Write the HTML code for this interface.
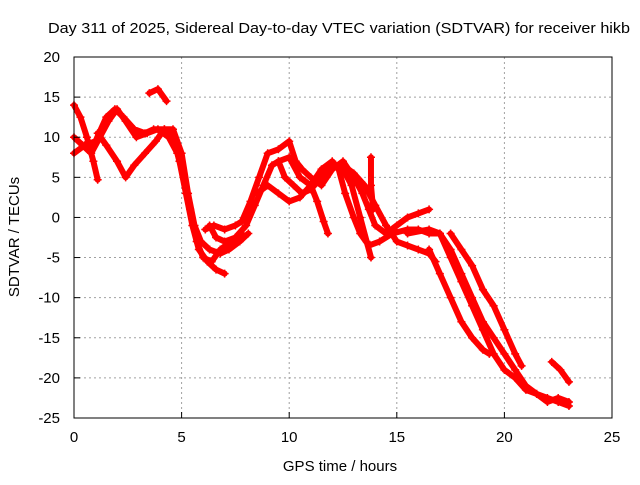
<!DOCTYPE html>
<html><head><meta charset="utf-8"><style>
body{margin:0;background:#fff;width:640px;height:480px;overflow:hidden}
svg text{font-family:"Liberation Sans",sans-serif;font-size:14px;fill:#000}
</style></head><body>
<svg id="chart" width="640" height="480" xmlns="http://www.w3.org/2000/svg">
<rect width="640" height="480" fill="#fff"/>
<g id="grid"></g><g id="series"></g><g id="axes"></g>
<text x="339" y="33" text-anchor="middle" textLength="582" lengthAdjust="spacingAndGlyphs" style="font-size:15px">Day 311 of 2025, Sidereal Day-to-day VTEC variation (SDTVAR) for receiver hikb</text>
<text x="340" y="471" text-anchor="middle" style="font-size:15px">GPS time / hours</text>
<text transform="translate(19,237) rotate(-90)" text-anchor="middle" style="font-size:15px">SDTVAR / TECUs</text>
</svg>
<script>
const xTicks=[0,5,10,15,20,25];
const yTicks=[20,15,10,5,0,-5,-10,-15,-20,-25];
const track1=[[0,14],[0.3,12.5],[0.6,10],[0.9,7],[1.1,4.7]];
const track2=[[0,8],[0.5,9],[1,9.5],[1.5,12.5],[1.9,13.5],[2.3,12.5],[2.8,11],[3.3,10.5],[3.7,11],[4.2,11],[4.6,10.5],[4.9,7],[5.2,3],[5.5,-1],[5.8,-4],[6.2,-5.5],[6.6,-6.5],[7,-7]];
const track3=[[0,10],[0.4,9],[0.8,8],[1.2,10],[1.6,12],[2,13.5],[2.4,12],[2.9,10],[3.4,10.5],[3.9,11],[4.4,10],[4.8,8],[5.1,5],[5.4,1],[5.7,-3],[6,-5],[6.4,-5.5],[6.8,-4],[7.3,-3],[7.8,-2]];
const track4=[[1.1,10.5],[1.5,9],[2,7],[2.4,5],[2.8,6.5],[3.3,8],[3.8,9.5],[4.2,11],[4.6,11],[5,8],[5.3,3],[5.6,-1],[5.9,-3],[6.3,-4],[6.8,-4.5],[7.2,-4],[7.7,-3],[8.1,-2]];
const track5=[[3.5,15.5],[3.9,16],[4.3,14.5]];
const track6=[[6.1,-1.5],[6.5,-1],[7,-1.5],[7.5,-1],[7.8,-0.5],[8.2,2],[8.6,5],[9,8],[9.5,8.5],[10,9.5],[10.3,7],[10.6,6],[11,5],[11.5,4],[12,6],[12.5,7],[13,5],[13.4,3],[13.7,1],[14,-1],[14.5,-2],[15,-1],[15.5,0],[16,0.5],[16.5,1]];
const track7=[[6.3,-1],[6.6,-2.5],[7,-3],[7.5,-2.5],[8,-1],[8.4,1.5],[8.8,4],[9.2,6.5],[9.5,7],[9.8,5],[10.2,4],[10.6,3],[11,3.5],[11.5,5],[12,6.5],[12.5,6],[12.9,4],[13.3,0],[13.6,-3],[13.8,-5]];
const track8=[[8.5,3],[9,4],[9.5,3],[10,2],[10.5,2.5],[11,4],[11.5,6],[12,7],[12.3,6],[12.6,3],[13,0],[13.3,-2],[13.7,-3.5],[14.2,-3],[14.8,-2],[15.5,-1.5],[16,-1.5],[16.5,-2],[17,-2]];
const track9=[[9.5,7],[10,7.5],[10.5,5],[11,4],[11.3,2],[11.6,-0.5],[11.8,-2]];
const track10=[[12.5,6.5],[13,5.5],[13.5,4],[14,1.5],[14.5,-1],[15,-3],[15.5,-3.5],[16,-4],[16.5,-4.5],[16.8,-5.5]];
const track11=[[13.8,7.5],[13.8,4],[13.9,1]];
const track12=[[15.5,-2],[16.5,-1.5],[17,-2],[17.5,-4],[18,-7],[18.5,-10],[19,-13],[19.5,-15],[20,-17],[20.5,-19],[21,-21],[21.5,-22],[22,-22.5],[22.5,-23],[23,-23.5]];
const track13=[[17,-2],[17.5,-5],[18,-8],[18.5,-11],[19,-14],[19.5,-17],[20,-19],[20.5,-20],[21,-21.5],[21.5,-22],[22,-23],[22.5,-22.5],[23,-23]];
const track14=[[16.5,-4],[17,-7],[17.5,-10],[18,-13],[18.5,-15],[19,-16.5],[19.3,-17]];
const track15=[[17.5,-2],[18,-4],[18.5,-6],[19,-9],[19.5,-11],[20,-14],[20.5,-17],[20.8,-18.5]];
const track16=[[22.2,-18],[22.6,-19],[23,-20.5]];
const tracks=[track1,track2,track3,track4,track5,track6,track7,track8,track9,track10,track11,track12,track13,track14,track15,track16];

const X0=74,X1=612,Y0=418,Y1=57;
const xs=v=>X0+(v-0)/25*(X1-X0);
const ys=v=>Y0-(v+25)/45*(Y0-Y1);
const NS="http://www.w3.org/2000/svg";
const grid=document.getElementById('grid'),ax=document.getElementById('axes'),ser=document.getElementById('series');
function mk(tag,attrs,parent){const e=document.createElementNS(NS,tag);for(const k in attrs)e.setAttribute(k,attrs[k]);parent.appendChild(e);return e;}
xTicks.forEach(t=>{
  const x=xs(t);
  if(t>0&&t<25){const g=mk('line',{x1:x,x2:x,y1:Y1,y2:Y0,stroke:'#a0a0a0','stroke-dasharray':'2,3'},grid);
  
  }
  const tk=mk('line',{x1:x,x2:x,y1:Y0,y2:Y0-6,stroke:'#000'},ax);
  
  
  const tx=mk('text',{x:x,y:Y0+24,'text-anchor':'middle','style':'font-size:15px'},ax);tx.textContent=t;
  
  
});
yTicks.forEach(t=>{
  const y=ys(t);
  if(t>-25&&t<20){const g=mk('line',{x1:X0,x2:X1,y1:y,y2:y,stroke:'#a0a0a0','stroke-dasharray':'2,3'},grid);
  
  }
  const tk=mk('line',{x1:X0,x2:X0+6,y1:y,y2:y,stroke:'#000'},ax);
  
  
  const tx=mk('text',{x:X0-14,y:y+5,'text-anchor':'end','style':'font-size:15px'},ax);tx.textContent=t;
  
  
});
const frame=mk('rect',{x:X0,y:Y1,width:X1-X0,height:Y0-Y1,fill:'none',stroke:'#000'},ax);


tracks.forEach(tr=>{
  const pl=mk('polyline',{points:tr.map(p=>xs(p[0])+','+ys(p[1])).join(' '),fill:'none',stroke:'#ff0000','stroke-width':6,'stroke-linejoin':'round','stroke-linecap':'round'},ser);
  
  
  tr.forEach(p=>{
    const x=xs(p[0]),y=ys(p[1]);
    const m=mk('path',{d:`M${x-4},${y}H${x+4}M${x},${y-4}V${y+4}`,stroke:'#ff0000','stroke-width':1.5},ser);
    
    
  });
});
</script>
</body></html>
